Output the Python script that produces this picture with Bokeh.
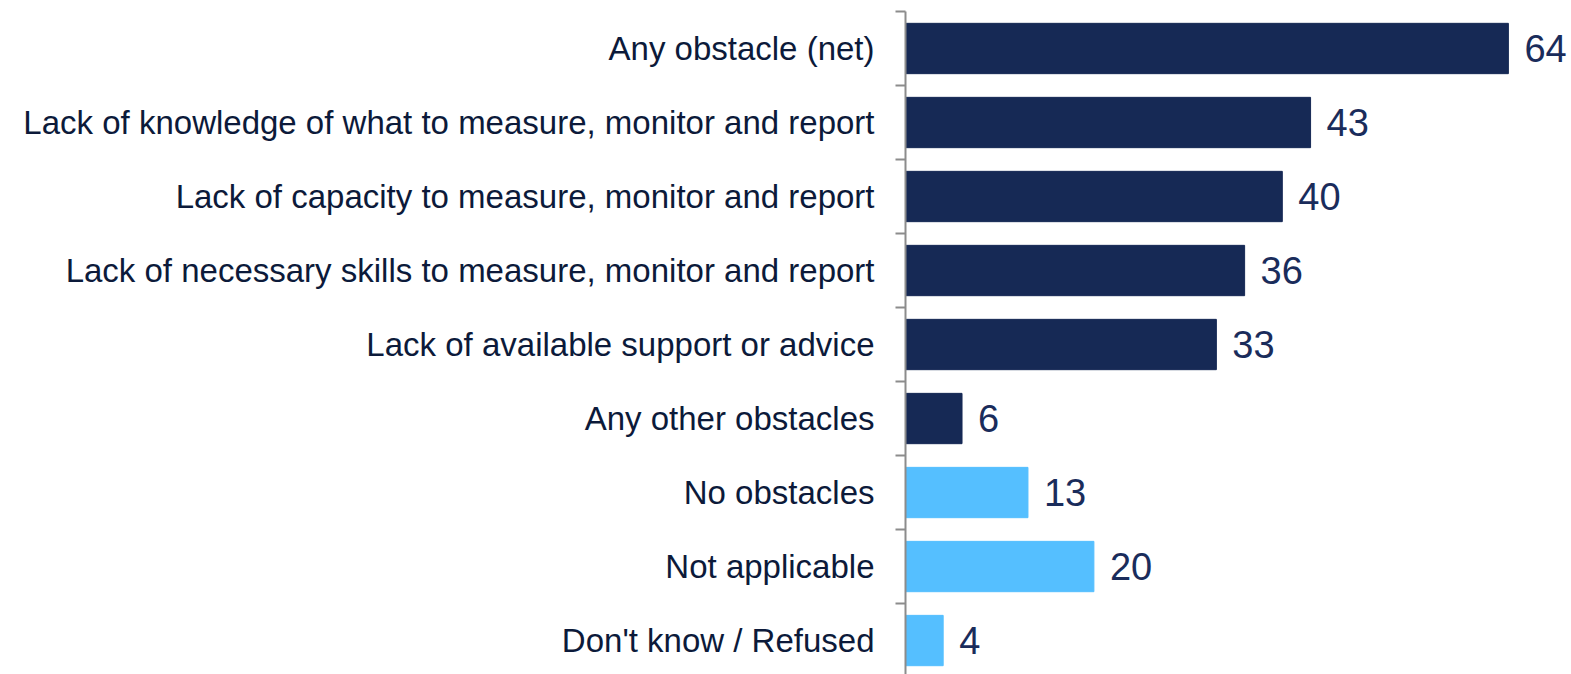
from bokeh.plotting import figure
from bokeh.models import ColumnDataSource, Range1d, FixedTicker
from bokeh.core.properties import value
from bokeh.embed import file_html
from bokeh.resources import INLINE

categories = [
    "Any obstacle (net)",
    "Lack of knowledge of what to measure, monitor and report",
    "Lack of capacity to measure, monitor and report",
    "Lack of necessary skills to measure, monitor and report",
    "Lack of available support or advice",
    "Any other obstacles",
    "No obstacles",
    "Not applicable",
    "Don't know / Refused",
]
values = [64, 43, 40, 36, 33, 6, 13, 20, 4]
groups = ["obstacle"] * 6 + ["other"] * 3

DARK = "#162955"
LIGHT = "#55bfff"

n = len(categories)
ypos = [n - 1 - i for i in range(n)]
colors = [DARK if g == "obstacle" else LIGHT for g in groups]
labels = [str(v) for v in values]

src = ColumnDataSource(dict(y=ypos, v=values, c=colors, lab=labels))

p = figure(width=1571, height=674, output_backend="svg", toolbar_location=None,
           x_range=Range1d(0, 70.7), y_range=Range1d(-0.459, n - 0.5),
           x_axis_location=None, min_border_left=905, min_border_right=0,
           min_border_top=11, min_border_bottom=0)
p.outline_line_color = None
p.grid.visible = False
p.background_fill_color = "white"

p.hbar(y="y", right="v", left=0, height=0.68, color="c", source=src)
p.text(x="v", y="y", text="lab", source=src, x_offset=16, text_baseline="middle",
       text_align="left", text_font=value("Liberation Sans"), text_font_size="38px",
       text_color="#1a2c5b")

ax = p.yaxis[0]
ax.ticker = FixedTicker(ticks=ypos, minor_ticks=[y + 0.5 for y in ypos] + [-0.5])
ax.major_label_overrides = {y: c for y, c in zip(ypos, categories)}
ax.major_tick_out = 0
ax.major_tick_in = 0
ax.minor_tick_out = 10
ax.minor_tick_in = 0
ax.minor_tick_line_color = "#8c8c8c"
ax.minor_tick_line_width = 2
ax.axis_line_color = "#8c8c8c"
ax.axis_line_width = 2
ax.major_label_standoff = 21
ax.major_label_text_font = "Liberation Sans"
ax.major_label_text_font_size = "33px"
ax.major_label_text_color = "#0c1a3a"

open("out.html", "w").write(file_html(p, INLINE))
